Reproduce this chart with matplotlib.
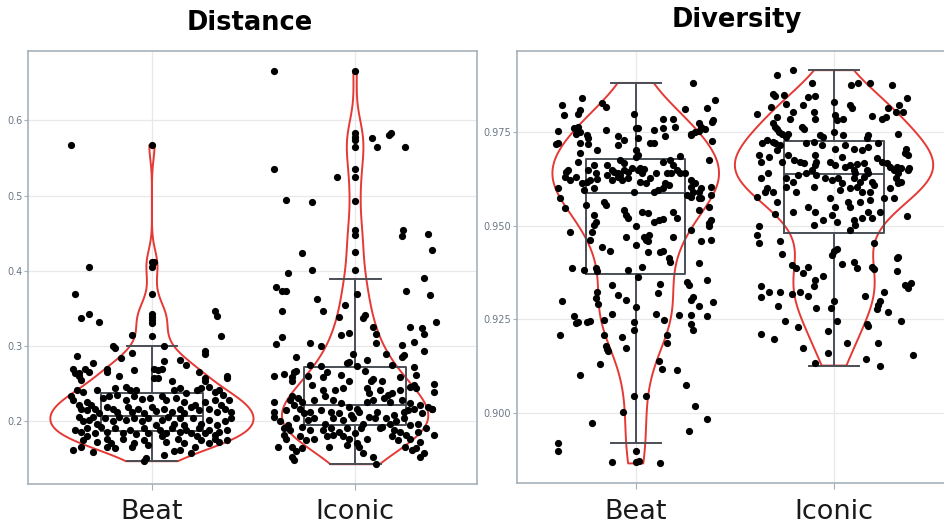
import numpy as np
import matplotlib
matplotlib.use("Agg")
import matplotlib.pyplot as plt
from matplotlib.ticker import FormatStrFormatter

categories = ["Beat", "Iconic"]

# box statistics: whisker low, q1, median, q3, whisker high
dist_box = [(0.1473, 0.1875, 0.2075, 0.2370, 0.3000),
            (0.1433, 0.1947, 0.2216, 0.2725, 0.3894)]
div_box = [(0.8921, 0.9370, 0.9587, 0.9678, 0.9881),
           (0.9127, 0.9480, 0.9637, 0.9726, 0.9915)]

# Distance - Beat: values, and the horizontal jitter of each dot (category units)
dist_beat_y = [
    0.567, 0.567, 0.405, 0.412, 0.412, 0.405,
    0.369, 0.369, 0.337, 0.343, 0.332, 0.343, 0.339, 0.335, 0.331,
    0.346, 0.340, 0.313, 0.315, 0.314, 0.300, 0.297, 0.300, 0.287, 0.291, 0.284,
    0.293, 0.290, 0.282, 0.275, 0.280, 0.278, 0.270, 0.264, 0.264, 0.270, 0.266,
    0.270, 0.266, 0.268, 0.270, 0.268, 0.270, 0.265, 0.258, 0.260, 0.257,
    0.260, 0.255, 0.260, 0.258, 0.257, 0.254, 0.254,
    0.242, 0.239, 0.242, 0.244, 0.235, 0.245, 0.242, 0.242, 0.242, 0.244,
    0.237, 0.242, 0.244, 0.246, 0.239, 0.242, 0.235, 0.233, 0.228,
    0.226, 0.222, 0.231, 0.233, 0.228, 0.233, 0.230, 0.231, 0.233, 0.228,
    0.231, 0.226, 0.222, 0.226, 0.228, 0.222, 0.228, 0.222, 0.219,
    0.217, 0.215, 0.217, 0.211, 0.217, 0.213, 0.219, 0.213, 0.217, 0.211, 0.219, 0.214,
    0.217, 0.213, 0.217, 0.211, 0.219, 0.215, 0.217, 0.213, 0.217, 0.213, 0.206, 0.206,
    0.200, 0.202, 0.197, 0.204, 0.200, 0.206, 0.202, 0.205, 0.200, 0.204, 0.195,
    0.202, 0.206, 0.197, 0.204, 0.195, 0.204, 0.197, 0.202, 0.195, 0.200, 0.204,
    0.188, 0.186, 0.191, 0.184, 0.193, 0.186, 0.191, 0.184, 0.188, 0.183, 0.191, 0.184,
    0.188, 0.184, 0.191, 0.186, 0.188, 0.184, 0.191, 0.184, 0.188, 0.182, 0.186, 0.188,
    0.175, 0.180, 0.173, 0.177, 0.171, 0.177, 0.171, 0.175, 0.169, 0.180,
    0.173, 0.177, 0.171, 0.180, 0.175, 0.171, 0.177, 0.173, 0.175,
    0.162, 0.166, 0.159, 0.166, 0.164, 0.166, 0.151, 0.155, 0.160, 0.162, 0.158, 0.166, 0.147,
]
dist_beat_dx = [
    -0.40, 0.00, -0.31, 0.00, 0.01, 0.00,
    -0.38, 0.00, -0.35, -0.31, -0.26, 0.00, 0.00, 0.00, 0.00,
    0.31, 0.32, 0.34, -0.10, 0.00, -0.19, -0.18, 0.06, -0.37, -0.10, -0.15,
    0.26, 0.26, 0.14, 0.17, 0.06, -0.29, -0.39, -0.38, -0.36, -0.33, -0.31,
    -0.22, -0.22, -0.09, 0.01, 0.03, 0.05, 0.23, 0.26, 0.37, 0.37,
    -0.36, -0.35, -0.16, 0.01, 0.03, 0.10, 0.26,
    -0.37, -0.34, -0.27, -0.18, -0.17, -0.13, -0.11, -0.08, 0.11, 0.14,
    0.17, 0.22, 0.24, 0.28, 0.31, 0.33, 0.35, -0.40, -0.39,
    -0.32, -0.30, -0.24, -0.21, -0.13, -0.09, -0.05, -0.01, 0.05, 0.07,
    0.12, 0.16, 0.21, 0.26, 0.31, 0.34, 0.38, -0.36, -0.22,
    -0.35, -0.32, -0.28, -0.26, -0.19, -0.17, -0.12, -0.10, -0.07, -0.04, 0.00, 0.02,
    0.06, 0.10, 0.14, 0.16, 0.19, 0.23, 0.28, 0.32, 0.36, 0.39, -0.36, -0.29,
    -0.34, -0.31, -0.27, -0.23, -0.19, -0.16, -0.13, -0.09, -0.05, -0.02, 0.02,
    0.05, 0.08, 0.11, 0.14, 0.16, 0.20, 0.24, 0.28, 0.32, 0.36, 0.39,
    -0.38, -0.35, -0.32, -0.28, -0.25, -0.22, -0.18, -0.14, -0.11, -0.08, -0.04, -0.02,
    0.04, 0.07, 0.10, 0.14, 0.17, 0.19, 0.23, 0.26, 0.28, 0.31, 0.33, 0.37,
    -0.34, -0.32, -0.27, -0.22, -0.20, -0.14, -0.09, -0.04, -0.02, 0.05,
    0.07, 0.13, 0.16, 0.22, 0.24, 0.28, 0.31, 0.33, 0.37,
    -0.39, -0.35, -0.29, -0.22, -0.18, -0.10, -0.03, 0.06, 0.11, 0.14, 0.19, 0.21, -0.04,
]

# Distance - Iconic
dist_iconic_y = [
    0.666, 0.666, 0.535, 0.583, 0.578, 0.574, 0.564, 0.576, 0.564, 0.580,
    0.583, 0.564, 0.535, 0.524, 0.524, 0.494, 0.492, 0.493, 0.454, 0.447,
    0.454, 0.446, 0.449, 0.427, 0.423, 0.425, 0.397, 0.401, 0.401, 0.391,
    0.379, 0.373, 0.373, 0.373, 0.368, 0.362, 0.369, 0.347, 0.347, 0.354,
    0.338, 0.341, 0.337, 0.325, 0.325, 0.324, 0.316, 0.332, 0.316, 0.315,
    0.318, 0.312, 0.303, 0.304, 0.300, 0.304, 0.301, 0.306, 0.294, 0.285,
    0.289, 0.289, 0.286, 0.288, 0.279, 0.278, 0.281, 0.275, 0.274, 0.273,
    0.275, 0.272, 0.267, 0.265, 0.263, 0.260, 0.266, 0.267, 0.261, 0.262, 0.260,
    0.259, 0.253, 0.259, 0.253, 0.253, 0.256, 0.253, 0.259, 0.248, 0.250,
    0.248, 0.242, 0.242, 0.244, 0.244, 0.237, 0.242, 0.235, 0.237, 0.242,
    0.246, 0.244, 0.239, 0.233, 0.231,
    0.226, 0.228, 0.222, 0.226, 0.228, 0.233, 0.228, 0.224, 0.219, 0.217,
    0.226, 0.228, 0.231, 0.226, 0.228, 0.224, 0.222, 0.219, 0.217,
    0.213, 0.215, 0.217, 0.211, 0.213, 0.215, 0.213, 0.211, 0.208, 0.213,
    0.206, 0.213, 0.204, 0.208, 0.213, 0.215, 0.217, 0.211, 0.217,
    0.206, 0.200, 0.195, 0.204, 0.202, 0.204, 0.197, 0.204, 0.202,
    0.204, 0.197, 0.204, 0.193, 0.197, 0.200, 0.204, 0.195, 0.197,
    0.191, 0.188, 0.193, 0.188, 0.188, 0.191, 0.186, 0.191,
    0.184, 0.191, 0.191, 0.188, 0.186, 0.182, 0.186, 0.191,
    0.182, 0.177, 0.180, 0.175, 0.177, 0.180, 0.182, 0.180,
    0.177, 0.171, 0.177, 0.180, 0.175, 0.177, 0.173, 0.182,
    0.166, 0.166, 0.160, 0.153, 0.149, 0.164, 0.166, 0.169, 0.166,
    0.158, 0.153, 0.143, 0.166, 0.162, 0.164, 0.153, 0.158,
]
dist_iconic_dx = [
    -0.40, 0.00, -0.40, 0.00, 0.00, 0.00, 0.00, 0.085, 0.11, 0.165,
    0.175, 0.245, 0.00, 0.00, -0.09, -0.34, -0.21, 0.00, 0.00, 0.00,
    0.235, 0.23, 0.36, 0.38, -0.26, 0.00, -0.33, -0.21, 0.00, 0.34,
    -0.39, -0.36, -0.34, 0.25, 0.37, -0.19, 0.01, -0.36, -0.16, -0.05,
    -0.08, 0.05, 0.04, 0.09, 0.27, 0.33, 0.34, 0.40, 0.105, -0.07,
    -0.03, -0.36, -0.39, -0.22, -0.17, 0.105, 0.23, 0.29, 0.34, -0.29,
    -0.01, 0.15, 0.23, 0.24, -0.03, -0.04, 0.06, -0.22, -0.17, 0.01,
    0.18, 0.29, -0.29, -0.30, -0.35, -0.40, -0.14, 0.05, -0.07, 0.30, -0.23,
    -0.31, -0.31, -0.16, -0.03, 0.08, 0.09, 0.13, 0.22, 0.29, 0.39,
    -0.21, -0.16, -0.10, -0.06, 0.06, 0.07, 0.12, 0.16, 0.18, 0.22,
    0.27, 0.30, 0.39, -0.31, -0.28,
    -0.40, -0.32, -0.30, -0.26, -0.20, -0.15, -0.11, -0.07, -0.03, 0.01,
    0.06, 0.09, 0.14, 0.17, 0.23, 0.27, 0.32, 0.36, 0.38,
    -0.40, -0.34, -0.27, -0.25, -0.22, -0.17, -0.12, -0.08, -0.02, 0.02,
    0.07, 0.11, 0.15, 0.19, 0.24, 0.26, 0.29, 0.33, 0.38,
    -0.40, -0.37, -0.33, -0.29, -0.23, -0.20, -0.15, -0.11, -0.06,
    -0.01, 0.04, 0.10, 0.13, 0.17, 0.20, 0.24, 0.27, 0.31,
    -0.35, -0.32, -0.26, -0.22, -0.16, -0.12, -0.08, -0.04,
    0.00, 0.03, 0.12, 0.19, 0.22, 0.25, 0.31, 0.35,
    -0.35, -0.34, -0.27, -0.24, -0.20, -0.14, -0.11, -0.06,
    -0.03, 0.01, 0.06, 0.18, 0.21, 0.27, 0.32, 0.39,
    -0.38, -0.31, -0.29, -0.31, -0.30, -0.26, -0.13, -0.04, 0.02,
    0.04, 0.09, 0.105, 0.245, 0.28, 0.30, 0.32, 0.34,
]

# Diversity - Beat
div_beat_y = [
    0.9881, 0.9822, 0.9795, 0.9840, 0.9809, 0.9798, 0.9827, 0.9818, 0.9835, 0.9813,
    0.9811, 0.9786, 0.9785, 0.9764, 0.9773, 0.9764, 0.9782, 0.9778, 0.9797, 0.9760,
    0.9762, 0.9753, 0.9760, 0.9746, 0.9764, 0.9751, 0.9755, 0.9755, 0.9762, 0.9739,
    0.9742, 0.9746, 0.9751, 0.9752, 0.9757, 0.9742, 0.9733, 0.9740, 0.9729, 0.9735,
    0.9717, 0.9722, 0.9720, 0.9717, 0.9715, 0.9722, 0.9722, 0.9726, 0.9702, 0.9702,
    0.9693, 0.9671, 0.9684, 0.9689, 0.9686, 0.9675, 0.9662, 0.9649, 0.9640, 0.9625,
    0.9662, 0.9649, 0.9644, 0.9640, 0.9635, 0.9649, 0.9644, 0.9653, 0.9649, 0.9653, 0.9651, 0.9640,
    0.9635, 0.9622, 0.9631, 0.9622, 0.9627, 0.9675, 0.9667, 0.9671, 0.9675,
    0.9662, 0.9649, 0.9640, 0.9640, 0.9642, 0.9640, 0.9627, 0.9613, 0.9610,
    0.9644, 0.9649, 0.9631, 0.9622, 0.9631, 0.9600, 0.9573, 0.9547,
    0.9595, 0.9555, 0.9613, 0.9618, 0.9622, 0.9600, 0.9564, 0.9555,
    0.9591, 0.9591, 0.9595, 0.9600, 0.9618, 0.9613,
    0.9640, 0.9622, 0.9604, 0.9613, 0.9591, 0.9591, 0.9600, 0.9573, 0.9573, 0.9582, 0.9604, 0.9578, 0.9582,
    0.9542, 0.9529, 0.9520, 0.9538, 0.9533, 0.9511, 0.9516, 0.9518, 0.9538,
    0.9520, 0.9529, 0.9511, 0.9516, 0.9507, 0.9498, 0.9542, 0.9551,
    0.9484, 0.9484, 0.9462, 0.9502, 0.9470, 0.9449, 0.9471, 0.9462,
    0.9476, 0.9458, 0.9471, 0.9460, 0.9462, 0.9489, 0.9498,
    0.9442, 0.9433, 0.9431, 0.9431, 0.9433, 0.9413, 0.9404, 0.9400,
    0.9387, 0.9382, 0.9387, 0.9378, 0.9382, 0.9389, 0.9364, 0.9343, 0.9345, 0.9321, 0.9351, 0.9342, 0.9356,
    0.9324, 0.9307, 0.9291, 0.9316, 0.9302, 0.9282, 0.9300, 0.9309, 0.9302, 0.9287, 0.9296,
    0.9260, 0.9240, 0.9244, 0.9242, 0.9246, 0.9249, 0.9264, 0.9264,
    0.9249, 0.9262, 0.9262, 0.9238, 0.9222, 0.9259, 0.9242, 0.9222,
    0.9208, 0.9209, 0.9202, 0.9178, 0.9172, 0.9167, 0.9173, 0.9209, 0.9187,
    0.9130, 0.9139, 0.9118, 0.9115, 0.9102, 0.9076, 0.9046, 0.9046, 0.9020, 0.9002, 0.8984, 0.8974, 0.8953,
    0.8920, 0.8900, 0.8900, 0.8870, 0.8870, 0.8873, 0.8866,
]
div_beat_dx = [
    0.29, -0.37, -0.36, -0.27, -0.28, -0.29, -0.17, -0.15, 0.40, 0.36,
    0.25, 0.14, 0.19, 0.20, 0.32, 0.33, 0.39, 0.385, -0.01, 0.00,
    0.01, -0.39, -0.31, -0.30, -0.29, -0.28, -0.15, 0.09, 0.14, 0.15,
    0.28, 0.28, 0.30, 0.32, 0.35, -0.245, -0.24, -0.09, -0.06, 0.01,
    -0.40, -0.39, -0.28, -0.24, -0.09, 0.07, 0.09, 0.385, -0.195, 0.00,
    -0.28, -0.29, 0.00, 0.01, 0.225, 0.37, -0.21, -0.24, -0.20, -0.195,
    -0.145, -0.12, -0.11, -0.09, -0.08, -0.06, -0.04, -0.02, 0.01, 0.02, 0.04, 0.03,
    -0.145, -0.12, -0.09, -0.07, -0.04, -0.08, -0.06, 0.14, 0.175,
    0.19, 0.21, 0.16, 0.18, 0.225, 0.10, 0.07, 0.15, 0.17,
    -0.35, -0.34, -0.355, -0.33, -0.30, -0.39, -0.38, -0.355,
    -0.26, -0.25, -0.27, -0.245, -0.23, -0.21, -0.16, -0.15,
    -0.01, 0.09, 0.11, 0.14, 0.02, 0.05,
    0.25, 0.28, 0.28, 0.30, 0.29, 0.32, 0.33, 0.33, 0.32, 0.38, 0.38, 0.28, 0.26,
    -0.06, -0.05, -0.04, 0.03, 0.06, 0.09, 0.115, 0.14, 0.19,
    0.21, -0.21, -0.20, 0.38, 0.37, 0.00, 0.32, 0.37,
    -0.33, -0.22, -0.23, -0.21, -0.05, 0.00, 0.04, 0.05,
    0.065, 0.06, 0.19, 0.33, 0.38, 0.28, 0.37,
    -0.17, -0.13, 0.06, 0.12, 0.14, 0.17, 0.175, 0.32,
    -0.32, -0.26, -0.20, -0.195, -0.04, 0.03, 0.01, -0.12, 0.12, 0.11, 0.26, 0.27, 0.36,
    -0.195, -0.20, -0.19, -0.09, -0.05, 0.00, -0.37, 0.29, 0.28, 0.32, 0.39,
    -0.31, -0.30, -0.29, -0.245, -0.23, -0.16, -0.12, 0.10,
    0.145, 0.22, 0.28, 0.28, 0.29, 0.36, -0.01, -0.01,
    -0.38, -0.16, -0.07, -0.15, -0.145, -0.14, -0.05, 0.16, 0.16,
    -0.18, 0.115, 0.135, 0.21, -0.28, 0.255, -0.01, 0.05, 0.30, -0.065, 0.36, -0.22, 0.27,
    -0.39, -0.39, 0.00, -0.12, 0.00, 0.015, 0.12,
]

# Diversity - Iconic
div_iconic_y = [
    0.9902, 0.9915, 0.9880, 0.9875, 0.9880, 0.9880, 0.9875, 0.9851, 0.9846, 0.9849,
    0.9844, 0.9847, 0.9840, 0.9826, 0.9822, 0.9818, 0.9798, 0.9831, 0.9822, 0.9813,
    0.9813, 0.9822, 0.9804, 0.9804, 0.9791, 0.9786, 0.9804, 0.9804, 0.9786, 0.9795,
    0.9782, 0.9786, 0.9793, 0.9786, 0.9791, 0.9773, 0.9764, 0.9758, 0.9751, 0.9746,
    0.9764, 0.9758, 0.9746, 0.9738, 0.9744, 0.9749, 0.9742, 0.9738, 0.9742, 0.9742, 0.9733,
    0.9720, 0.9729, 0.9724, 0.9720, 0.9715, 0.9702, 0.9722, 0.9724, 0.9715,
    0.9706, 0.9715, 0.9705, 0.9702, 0.9711, 0.9722, 0.9706, 0.9689, 0.9693,
    0.9671, 0.9690, 0.9684, 0.9671, 0.9690, 0.9675, 0.9671, 0.9667, 0.9689, 0.9671,
    0.9662, 0.9671, 0.9662, 0.9684, 0.9658, 0.9662, 0.9649, 0.9664, 0.9667, 0.9649,
    0.9640, 0.9680, 0.9671, 0.9667, 0.9658, 0.9649, 0.9658, 0.9653, 0.9649, 0.9653, 0.9640,
    0.9640, 0.9627, 0.9627, 0.9618, 0.9635, 0.9640, 0.9649, 0.9635, 0.9627, 0.9622,
    0.9627, 0.9613, 0.9627, 0.9618, 0.9631, 0.9640, 0.9618, 0.9627, 0.9613, 0.9618,
    0.9600, 0.9591, 0.9591, 0.9578, 0.9604, 0.9591, 0.9604, 0.9595,
    0.9600, 0.9604, 0.9591, 0.9591, 0.9609, 0.9600, 0.9573, 0.9573,
    0.9564, 0.9538, 0.9551, 0.9538, 0.9573, 0.9551, 0.9564, 0.9551, 0.9564, 0.9569,
    0.9531, 0.9516, 0.9529, 0.9511, 0.9516, 0.9502, 0.9520, 0.9538, 0.9520, 0.9538, 0.9526, 0.9498, 0.9502,
    0.9475, 0.9453, 0.9458, 0.9424, 0.9489, 0.9422, 0.9433, 0.9438, 0.9453, 0.9413, 0.9417, 0.9378,
    0.9395, 0.9387, 0.9373, 0.9389, 0.9367, 0.9355, 0.9338, 0.9399, 0.9404, 0.9386, 0.9391, 0.9384,
    0.9340, 0.9309, 0.9322, 0.9322, 0.9318, 0.9322, 0.9313, 0.9286, 0.9280, 0.9280,
    0.9298, 0.9313, 0.9298, 0.9289, 0.9322, 0.9278, 0.9271, 0.9342, 0.9333,
    0.9347, 0.9246, 0.9246, 0.9238, 0.9232, 0.9246, 0.9230, 0.9212, 0.9198,
    0.9218, 0.9187, 0.9187, 0.9173, 0.9160, 0.9156, 0.9145, 0.9133, 0.9127,
]
div_iconic_dx = [
    -0.29, -0.205, -0.11, 0.085, 0.12, 0.18, 0.29, -0.31, -0.30, -0.25,
    -0.13, -0.095, 0.37, -0.24, -0.155, -0.32, -0.39, 0.00, 0.08, 0.09,
    0.27, 0.33, 0.35, 0.31, -0.29, -0.22, -0.205, -0.10, -0.095, 0.005,
    0.015, 0.045, 0.19, 0.24, 0.26, -0.31, -0.30, -0.29, -0.28, -0.26,
    -0.16, -0.15, -0.23, -0.24, 0.325, 0.00, -0.07, -0.055, 0.045, 0.17, 0.165,
    -0.365, -0.34, -0.31, -0.30, -0.27, -0.29, -0.14, -0.10, -0.06,
    0.005, 0.055, 0.10, 0.14, 0.17, 0.22, 0.365, 0.375, 0.36,
    -0.37, -0.38, -0.33, -0.26, -0.23, -0.20, -0.17, -0.15, -0.095, -0.09,
    -0.095, -0.02, 0.005, 0.04, 0.055, 0.08, 0.10, 0.115, 0.15, 0.165,
    0.105, 0.215, 0.24, 0.265, 0.28, 0.30, 0.315, 0.34, 0.375, 0.38, 0.325,
    -0.335, -0.37, -0.24, -0.205, -0.18, -0.14, -0.11, -0.09, -0.045, -0.01,
    0.02, 0.04, 0.10, 0.13, 0.15, 0.17, 0.19, 0.31, 0.325, 0.34,
    -0.34, -0.35, -0.31, -0.39, -0.24, -0.19, -0.10, 0.03,
    0.08, 0.115, 0.14, 0.18, 0.20, 0.28, 0.30, 0.25,
    -0.29, -0.205, -0.13, -0.095, -0.02, 0.005, 0.07, 0.08, 0.13, 0.18,
    -0.30, -0.055, -0.01, 0.015, 0.10, 0.105, 0.14, 0.17, 0.19, 0.23, 0.37, -0.38, -0.10,
    -0.39, -0.38, -0.27, -0.26, 0.08, -0.01, 0.00, 0.015, 0.20, 0.315, 0.325, 0.315,
    -0.21, -0.19, -0.155, -0.13, -0.055, -0.095, -0.10, 0.04, 0.10, 0.115, 0.19, 0.20,
    -0.37, -0.37, -0.33, -0.27, -0.21, -0.17, -0.13, -0.285, -0.09, -0.015,
    0.00, 0.155, 0.23, 0.22, 0.25, 0.215, 0.27, 0.36, 0.375,
    0.39, -0.245, 0.015, 0.165, 0.17, 0.34, -0.18, -0.37, -0.305,
    -0.03, 0.065, 0.22, -0.155, -0.03, 0.40, 0.16, -0.095, 0.23,
]

RED = "#e53935"
BOX = "#4a4f55"
FRAME = "#a7b0ba"
GRID = "#e8e8e8"
TICKTXT = "#6b7886"


# plotly-like silverman bandwidth (uses min of std and IQR/1.349)
def silverman_bw(kde):
    d = np.asarray(kde.dataset).ravel()
    std = d.std(ddof=1)
    q1, q3 = np.percentile(d, [25, 75])
    bw = 1.059 * min(std, (q3 - q1) / 1.349) * len(d) ** -0.2
    return bw / std


def draw_panel(ax, ys, dxs, box, widths, ylim, yticks, fmt, xlim):
    parts = ax.violinplot(ys, positions=[0, 1], widths=widths, showextrema=False,
                          points=300, bw_method=silverman_bw)
    for body in parts["bodies"]:
        body.set_facecolor("none")
        body.set_edgecolor(RED)
        body.set_linewidth(1.4)
        body.set_alpha(1)
        body.set_zorder(2)

    stats = [dict(whislo=b[0], q1=b[1], med=b[2], q3=b[3], whishi=b[4], fliers=[])
             for b in box]
    line = dict(color=BOX, linewidth=1.4)
    ax.bxp(stats, positions=[0, 1], widths=0.5, showfliers=False,
           boxprops=line, whiskerprops=line, capprops=line, medianprops=line,
           manage_ticks=False, zorder=3)

    for i, (y, dx) in enumerate(zip(ys, dxs)):
        ax.scatter(i + np.array(dx), y, s=27, color="black", linewidths=0, zorder=4)

    ax.set_xlim(*xlim)
    ax.set_ylim(*ylim)
    ax.set_xticks([0, 1])
    ax.set_xticklabels(categories)
    ax.set_yticks(yticks)
    ax.yaxis.set_major_formatter(FormatStrFormatter(fmt))
    ax.grid(True, color=GRID, linewidth=0.9)
    ax.set_axisbelow(True)
    for s in ax.spines.values():
        s.set_color(FRAME)
        s.set_linewidth(1.2)
    ax.tick_params(axis="y", length=3, width=0.8, color=FRAME, labelcolor=TICKTXT,
                   labelsize=7, pad=1)
    ax.tick_params(axis="x", length=4, width=0.8, color=FRAME, labelcolor="#1a1a1a",
                   labelsize=19.5, pad=7)


fig = plt.figure(figsize=(9.45, 5.28), dpi=100)
ax1 = fig.add_axes([0.0296, 0.0833, 0.4752, 0.8201])
ax2 = fig.add_axes([0.5468, 0.0847, 0.4617, 0.8193])

draw_panel(ax1, [dist_beat_y, dist_iconic_y], [dist_beat_dx, dist_iconic_dx], dist_box,
           [1.0, 0.72], (0.1167, 0.692), [0.2, 0.3, 0.4, 0.5, 0.6], "%.1f", (-0.61, 1.60))
draw_panel(ax2, [div_beat_y, div_iconic_y], [div_beat_dx, div_iconic_dx], div_box,
           [0.84, 1.0], (0.8813, 0.9967), [0.900, 0.925, 0.950, 0.975], "%.3f", (-0.60, 1.60))

fig.text(0.2646, 0.956, "Distance", ha="center", va="center", fontsize=18.5, fontweight="bold")
fig.text(0.7795, 0.963, "Diversity", ha="center", va="center", fontsize=18.5, fontweight="bold")

fig.savefig("out.png", dpi=100)
